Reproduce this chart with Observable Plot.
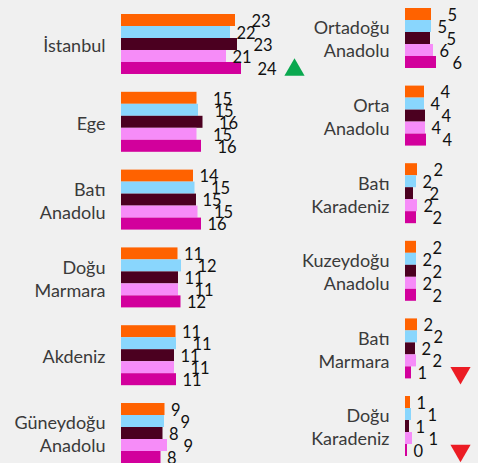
<!DOCTYPE html>
<html><head><meta charset="utf-8">
<script src="https://cdn.jsdelivr.net/npm/d3@7"></script>
<script src="https://cdn.jsdelivr.net/npm/@observablehq/plot@0.6"></script>
<style>
body{margin:0;background:#f0f0f0;}
#chart{position:relative;width:478px;height:463px;overflow:hidden;background:#f0f0f0;}
#chart svg{position:absolute;top:0;}
</style></head><body><div id="chart"></div>
<script>
const series = ["s1", "s2", "s3", "s4", "s5"];
const colors = ["#ff6200", "#89d6fd", "#4b0020", "#f68cf8", "#d2009c"];

const leftRegions = ["İstanbul", "Ege", "Batı Anadolu", "Doğu Marmara", "Akdeniz", "Güneydoğu Anadolu"];
const leftLabels = ["İstanbul", "Ege", "Batı\nAnadolu", "Doğu\nMarmara", "Akdeniz", "Güneydoğu\nAnadolu"];
const leftValues = [
  [22.8, 21.8, 23.2, 21.0, 24.0],
  [15.1, 15.4, 16.3, 15.1, 16.0],
  [14.4, 14.7, 15.0, 15.3, 16.0],
  [11.3, 12.0, 11.4, 11.4, 11.9],
  [10.9, 11.0, 10.6, 10.6, 11.0],
  [8.7, 8.6, 8.3, 9.2, 7.9]
];

const rightRegions = ["Ortadoğu Anadolu", "Orta Anadolu", "Batı Karadeniz", "Kuzeydoğu Anadolu", "Batı Marmara", "Doğu Karadeniz"];
const rightLabels = ["Ortadoğu\nAnadolu", "Orta\nAnadolu", "Batı\nKaradeniz", "Kuzeydoğu\nAnadolu", "Batı\nMarmara", "Doğu\nKaradeniz"];
const rightValues = [
  [5.2, 5.2, 5.0, 5.6, 6.2],
  [3.8, 3.8, 4.0, 4.0, 4.2],
  [2.4, 2.2, 1.6, 2.4, 2.2],
  [2.2, 2.2, 2.2, 2.2, 2.2],
  [2.4, 2.4, 2.0, 2.2, 1.2],
  [1.0, 1.2, 0.8, 1.4, 0.4]
];

const upRegions = ["İstanbul"];
const downRegions = ["Batı Marmara", "Doğu Karadeniz"];

// label staggering style (which groups start their value labels on the wide offset)
const wideFirst = new Set(["İstanbul", "Ortadoğu Anadolu", "Orta Anadolu", "Batı Karadeniz", "Kuzeydoğu Anadolu"]);
const wideAll = new Set(["Ege"]);
const labelDx = (d, j) => (wideAll.has(d.region) || ((j % 2 === 0) === wideFirst.has(d.region))) ? 16 : 6;

function panel({regions, labels, values, width, marginLeft, marginRight, marginTop, marginBottom, xMax, padding, triDx}) {
  const data = regions.flatMap((r, i) => series.map((s, j) => ({region: r, series: s, j, value: values[i][j]})));
  const lab = regions.map((r, i) => ({region: r, label: labels[i]}));
  const ups = upRegions.filter(r => regions.includes(r));
  const downs = downRegions.filter(r => regions.includes(r));
  const wide = data.filter(d => labelDx(d, d.j) === 16);
  const narrow = data.filter(d => labelDx(d, d.j) !== 16);
  const valueText = (arr, dx) => Plot.text(arr, {fy: "region", y: "series", x: "value",
    text: d => d3.format(".0f")(d.value), textAnchor: "start", dx, dy: 1,
    fontSize: 16.5, fill: "#111"});
  return Plot.plot({
    width, height: 463,
    marginLeft, marginRight, marginTop, marginBottom,
    x: {domain: [0, xMax], axis: null},
    y: {domain: series, axis: null, padding: 0, round: false},
    fy: {domain: regions, axis: null, paddingInner: padding, paddingOuter: 0, round: false},
    color: {domain: series, range: colors},
    style: {background: "transparent", fontFamily: "Lato, 'Liberation Sans', sans-serif", overflow: "visible"},
    marks: [
      Plot.barX(data, {fy: "region", y: "series", x: "value", fill: "series"}),
      valueText(wide, 16),
      valueText(narrow, 6),
      Plot.text(lab, {fy: "region", text: "label", frameAnchor: "left", textAnchor: "end",
        dx: -16, fontSize: 18, lineHeight: 1.28, fill: "#3a3a3a"}),
      Plot.dot(ups, {fy: d => d, y: () => series[4], frameAnchor: "right", dx: triDx, dy: 1.5,
        symbol: "triangle", r: 7.5, fill: "#0aa84f", stroke: "none"}),
      Plot.dot(downs, {fy: d => d, y: () => series[4], frameAnchor: "right", dx: triDx,
        symbol: "triangle", rotate: 180, r: 7.5, fill: "#ec1c24", stroke: "none"})
    ]
  });
}

const chart = document.getElementById("chart");
const left = panel({regions: leftRegions, labels: leftLabels, values: leftValues,
  width: 310, marginLeft: 121, marginRight: 39, marginTop: 14, marginBottom: 0,
  xMax: 30, padding: 0.229, triDx: 23});
left.style.left = "0px";
chart.appendChild(left);

const right = panel({regions: rightRegions, labels: rightLabels, values: rightValues,
  width: 190, marginLeft: 117, marginRight: 0, marginTop: 8, marginBottom: 7,
  xMax: 14.6, padding: 0.227, triDx: -18});
right.style.left = "288px";
chart.appendChild(right);
</script></body></html>
